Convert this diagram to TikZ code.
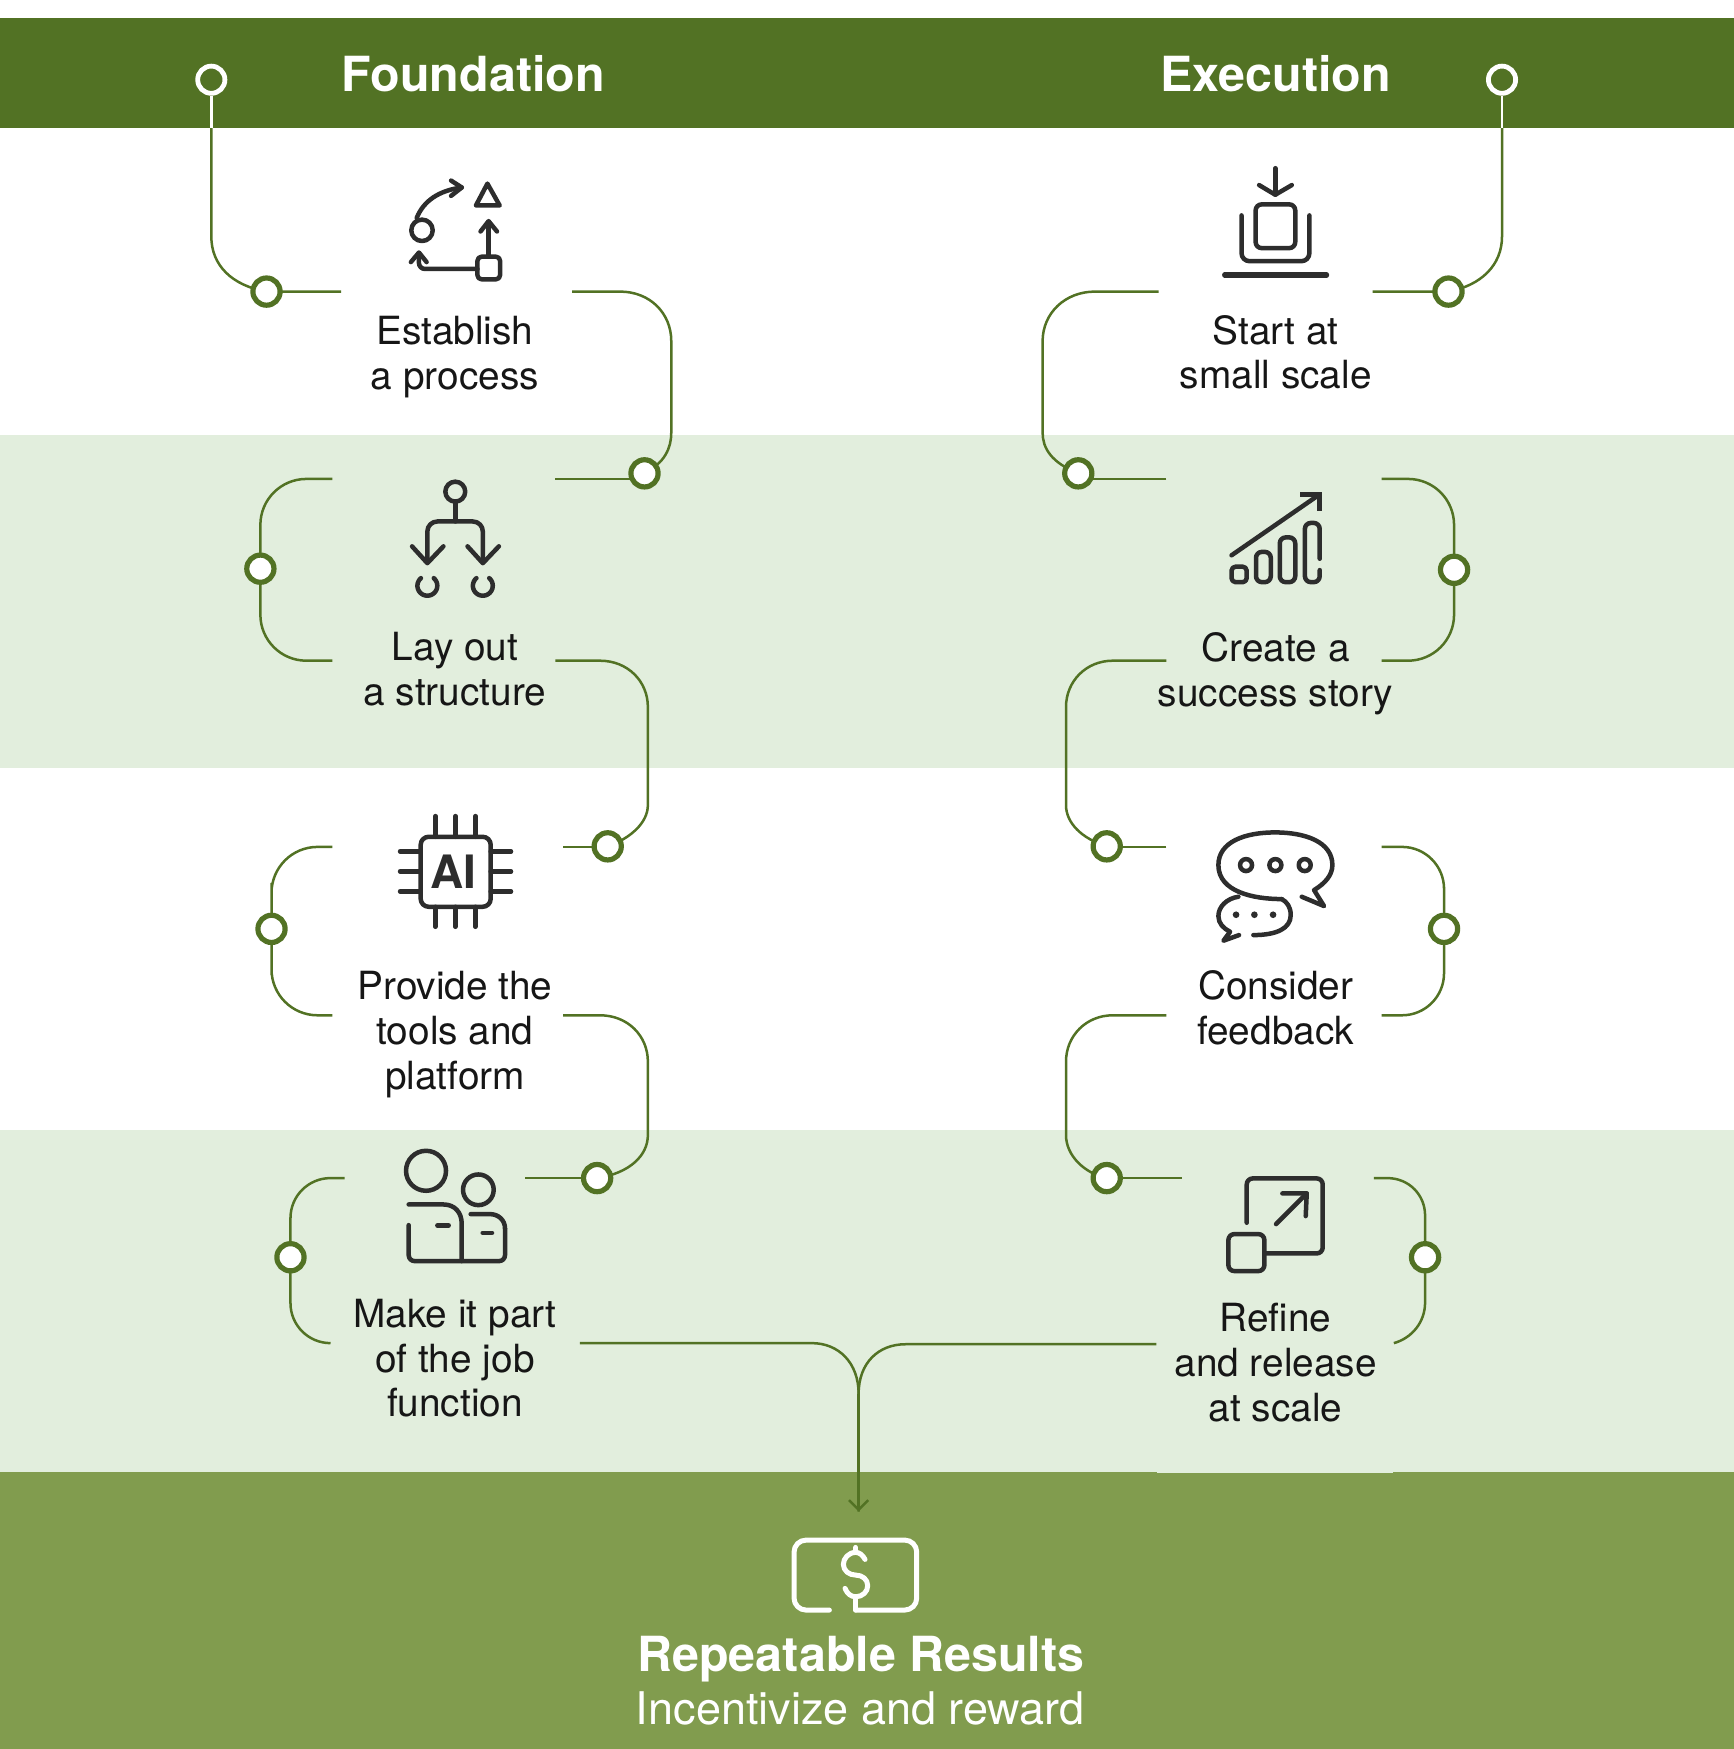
\documentclass[tikz,border=0pt]{standalone}
\usepackage{fontspec}
\setmainfont{TeX Gyre Heros}
\usetikzlibrary{arrows.meta}
\definecolor{gdark}{HTML}{527224}
\definecolor{gmid}{HTML}{819C4E}
\definecolor{glight}{HTML}{E2EEDD}
\definecolor{ink}{HTML}{2D2D2D}
\definecolor{txt}{HTML}{161616}
\pgfdeclarelayer{bands}
\pgfdeclarelayer{links}
\pgfsetlayers{bands,links,main}
\tikzset{
  ringg/.style={circle,draw=gdark,fill=white,line width=2.6pt,minimum size=13.6pt,inner sep=0pt},
  ringw/.style={circle,draw=white,fill=gdark,line width=2.4pt,minimum size=13.6pt,inner sep=0pt},
  link/.style={draw=gdark,line width=1.25pt,rounded corners=23pt},
  label/.style={font=\fontsize{19.4}{22.4}\selectfont,text=txt,align=center,inner sep=0pt},
  head/.style={font=\bfseries\fontsize{24.2}{28}\selectfont,text=white,inner sep=0pt},
  icon/.style={draw=ink,line width=2.25pt,line cap=round,line join=round},
  iconw/.style={draw=white,line width=2.5pt,line cap=round,line join=round},
  z1/.style={shift={(134.5,0)},x=0.1913pt,y=-0.1913pt},
  z2/.style={shift={(896.9,89.7)},x=0.1722pt,y=-0.1722pt},
  z3/.style={shift={(313.9,699.6)},x=0.16667pt,y=-0.16667pt},
  z4/.style={shift={(1049.3,717.5)},x=0.16667pt,y=-0.16667pt},
  z5/.style={shift={(627.8,1165.9)},x=0.16667pt,y=-0.16667pt},
}
\begin{document}
\begin{tikzpicture}[x=0.55756pt,y=-0.55756pt]
\useasboundingbox (0,0) rectangle (1555,1568.5);
\begin{pgfonlayer}{bands}
  \fill[gdark] (0,16) rectangle (1555,115);
  \fill[glight] (0,390) rectangle (1555,689);
  \fill[glight] (0,1013) rectangle (1555,1320);
  \fill[gmid] (0,1320) rectangle (1555,1568.5);
  \fill[glight] (1037.6,1319.9) rectangle (1249.5,1321);
\end{pgfonlayer}

% headings and labels
\node[head] (foundation) at (424.5,66.5) {Foundation};
\node[head] (execution) at (1144,66.5) {Execution};
\node[label] (t1) at (408,320) {Establish\\a process};
\node[label] (t2) at (408,600) {Lay out\\a structure};
\node[label] (t3) at (408,928) {Provide the\\tools and\\platform};
\node[label] (t4) at (408,1218) {Make it part\\of the job\\function};
\node[label] (t5) at (1144,316) {Start at\\small scale};
\node[label] (t6) at (1144,604) {Create a\\success story};
\node[label] (t7) at (1144,904) {Consider\\feedback};
\node[label] (t8) at (1144,1222) {Refine\\and release\\at scale};
\node[head] (rr) at (772,1488) {Repeatable Results};
\node[label,text=white,font=\fontsize{22.5}{26}\selectfont] (inc) at (771.5,1532.5) {Incentivize and reward};

% rings
\node[ringw] (a0) at (189.5,71.5) {};
\node[ringg] (a1) at (239,261.5) {};
\node[ringg] (a2) at (578,424.5) {};
\node[ringg] (a3) at (233.5,510) {};
\node[ringg] (a4) at (545,759) {};
\node[ringg] (a5) at (243.5,833) {};
\node[ringg] (a6) at (535.5,1056.5) {};
\node[ringg] (a7) at (260.5,1127.5) {};
\node[ringw] (b0) at (1347,71.5) {};
\node[ringg] (b1) at (1299,261.5) {};
\node[ringg] (b2) at (967,424.5) {};
\node[ringg] (b3) at (1304,511) {};
\node[ringg] (b4) at (992.5,759) {};
\node[ringg] (b5) at (1295,833) {};
\node[ringg] (b6) at (992.5,1056.5) {};
\node[ringg] (b7) at (1278,1127.5) {};

% free ends
\coordinate (abar) at (189.5,115);
\coordinate (bbar) at (1347,115);
\coordinate (e1) at (306,261.5);   \coordinate (e2) at (513,261.5);
\coordinate (e3) at (498,429.5);   \coordinate (e4) at (298,429.5);
\coordinate (e5) at (298,592.5);   \coordinate (e6) at (498,592.5);
\coordinate (e7) at (505,759.5);   \coordinate (e8) at (298,759.5);
\coordinate (e9) at (298,910.5);   \coordinate (e10) at (505,910.5);
\coordinate (e11) at (471,1056.5); \coordinate (e12) at (309,1056.5);
\coordinate (e13) at (296,1204.5); \coordinate (e14) at (520,1204.5);
\coordinate (f1) at (1231,261.5);  \coordinate (f2) at (1039,261.5);
\coordinate (f3) at (1046,429.5);  \coordinate (f4) at (1239,429.5);
\coordinate (f5) at (1239,592.5);  \coordinate (f6) at (1046,592.5);
\coordinate (f7) at (1046,759.5);  \coordinate (f8) at (1239,759.5);
\coordinate (f9) at (1239,910.5);  \coordinate (f10) at (1046,910.5);
\coordinate (f11) at (1060,1056.5);\coordinate (f12) at (1232,1056.5);
\coordinate (f13) at (1250,1204.5);\coordinate (f14) at (1037,1205.5);
\coordinate (join) at (770,1250);
\coordinate (tip) at (770,1355.5);

\begin{pgfonlayer}{links}
  % left column
  \draw[white,line width=1.25pt] (a0) -- (abar);
  \draw[link,rounded corners=0pt] (abar) -- (189.5,212) .. controls (189.5,238) and (208,256) .. (a1.center) -- (e1);
  \draw[link,rounded corners=0pt] (e2) -- (556,261.5) .. controls (583,261.5) and (602,281) .. (602,306) -- (602,388) .. controls (602,402) and (596,415) .. (a2.center);
  \draw[link,rounded corners=0pt] (e3) -- (a2.center |- e3);
  \draw[link] (e4) -| (a3.center) |- (e5);
  \draw[link,rounded corners=0pt] (e6) -- (538,592.5) .. controls (563,592.5) and (581,611) .. (581,634) -- (581,722) .. controls (581,738) and (565,752) .. (a4.center);
  \draw[link,rounded corners=0pt] (e7) -- (a4.center |- e7);
  \draw[link] (e8) -| (a5.center) |- (e9);
  \draw[link,rounded corners=0pt] (e10) -- (538,910.5) .. controls (563,910.5) and (581,929) .. (581,952) -- (581,1018) .. controls (581,1036) and (565,1052) .. (a6.center);
  \draw[link,rounded corners=0pt] (e11) -- (a6.center |- e11);
  \draw[link,rounded corners=20pt] (e12) -| (a7.center) |- (e13);
  \draw[link,rounded corners=0pt] (e14) -- (728,1204.5) .. controls (752,1204.5) and (770,1222) .. (join) -- (tip);
  % right column
  \draw[white,line width=1.25pt] (b0) -- (bbar);
  \draw[link,rounded corners=0pt] (bbar) -- (1347,212) .. controls (1347,238) and (1328,256) .. (b1.center) -- (f1);
  \draw[link,rounded corners=0pt] (f2) -- (982,261.5) .. controls (955,261.5) and (935,281) .. (935,306) -- (935,388) .. controls (935,402) and (943,415) .. (b2.center);
  \draw[link,rounded corners=0pt] (f3) -- (b2.center |- f3);
  \draw[link] (f4) -| (b3.center) |- (f5);
  \draw[link,rounded corners=0pt] (f6) -- (998,592.5) .. controls (974,592.5) and (956,611) .. (956,634) -- (956,722) .. controls (956,738) and (970,752) .. (b4.center);
  \draw[link,rounded corners=0pt] (f7) -- (b4.center |- f7);
  \draw[link,rounded corners=21pt] (f8) -| (b5.center) |- (f9);
  \draw[link,rounded corners=0pt] (f10) -- (998,910.5) .. controls (974,910.5) and (956,929) .. (956,952) -- (956,1018) .. controls (956,1036) and (972,1052) .. (b6.center);
  \draw[link,rounded corners=0pt] (f11) -- (b6.center |- f11);
  \draw[link,rounded corners=0pt] (f12) -- (1244,1056.5) .. controls (1264,1056.5) and (1278,1072) .. (1278,1090) -- (1278,1168) .. controls (1278,1186) and (1266,1200) .. (f13);
  \draw[link,rounded corners=0pt] (f14) -- (812,1205.5) .. controls (788,1205.5) and (770,1222) .. (join);
  \draw[gdark,line width=1.25pt,-{Straight Barb[length=4.8pt,width=9.6pt]}] (join) -- (tip);
\end{pgfonlayer}

% icon: establish a process
\begin{scope}[z1]
  \draw[icon] (711,602) circle[radius=28];
  \draw[icon] (697,570) .. controls (715,525) and (755,498) .. (815,490);
  \draw[icon] (787,472) -- (815,490) -- (787,512);
  \draw[icon] (882,480) -- (914,537) -- (852,537) -- cycle;
  \draw[icon] (885,668) -- (885,580);
  \draw[icon] (864,605) -- (885,578) -- (907,605);
  \draw[icon,rounded corners=2pt] (856,671) rectangle (915,730);
  \draw[icon,rounded corners=3pt] (856,703) -- (703,703) -- (703,662);
  \draw[icon] (682,685) -- (703,660) -- (723,685);
\end{scope}
% icon: lay out a structure
\begin{scope}[z1]
  \draw[icon] (798,1285) circle[radius=26];
  \draw[icon] (798,1311) -- (798,1363);
  \draw[icon,rounded corners=5pt] (725,1470) -- (725,1363) -- (870,1363) -- (870,1470);
  \draw[icon] (685,1428) -- (725,1472) -- (767,1428);
  \draw[icon] (830,1428) -- (870,1472) -- (912,1428);
  \draw[icon,domain=-50:230,samples=30,variable=\t,smooth] plot ({725+26*cos(\t)},{1531+26*sin(\t)});
  \draw[icon,domain=-50:230,samples=30,variable=\t,smooth] plot ({870+26*cos(\t)},{1531+26*sin(\t)});
\end{scope}
% icon: start at small scale
\begin{scope}[z2]
  \draw[icon] (799,198) -- (799,275);
  \draw[icon] (752,247) -- (799,275) -- (847,247);
  \draw[icon,rounded corners=3pt] (742,303) rectangle (857,430);
  \draw[icon,rounded corners=4pt] (701,335) -- (701,468) -- (898,468) -- (898,335);
  \draw[icon,line width=2.6pt] (652,508) -- (948,508);
\end{scope}
% icon: success story
\begin{scope}[z2]
  \draw[icon] (672,1322) -- (928,1145);
  \draw[icon,line cap=butt,line join=miter] (872,1145) -- (928,1145) -- (928,1192);
  \draw[icon,rounded corners=2pt] (672,1355) rectangle (716,1400);
  \draw[icon,rounded corners=3pt] (743,1312) rectangle (786,1400);
  \draw[icon,rounded corners=3pt] (812,1270) rectangle (857,1400);
  \draw[icon,rounded corners=3pt] (928,1332) -- (928,1228) -- (885,1228) -- (885,1400) -- (928,1400) -- (928,1365);
\end{scope}
% icon: AI chip
\begin{scope}[z3]
  \draw[icon,rounded corners=4pt] (212,170) rectangle (422,380);
  \foreach \p in {256,316,376} {
    \draw[icon] (\p,108) -- (\p,170);
    \draw[icon] (\p,380) -- (\p,440);
  }
  \foreach \p in {214,274,334} {
    \draw[icon] (150,\p) -- (212,\p);
    \draw[icon] (422,\p) -- (483,\p);
  }
  \node[font=\bfseries\fontsize{23}{23}\selectfont,text=ink,inner sep=0pt] (ai) at (310,275) {AI};
\end{scope}
% icon: people
\begin{scope}[z3]
  \draw[icon] (228,1172) circle[radius=60];
  \draw[icon] (385,1229) circle[radius=46];
  \draw[icon] (176,1273) -- (280,1273) .. controls (315,1273) and (335,1298) .. (335,1330) -- (335,1443);
  \draw[icon,rounded corners=3pt] (176,1335) -- (176,1443) -- (465,1443) -- (465,1345);
  \draw[icon] (465,1345) .. controls (465,1320) and (445,1302) .. (420,1302) -- (362,1302);
  \draw[icon] (262,1336) -- (296,1336);
  \draw[icon] (398,1358) -- (426,1358);
\end{scope}
% icon: feedback
\begin{scope}[z4]
  \draw[icon] (335,297) .. controls (250,297) and (145,275) .. (145,195) .. controls (145,125) and (225,97) .. (315,97) .. controls (405,97) and (487,125) .. (487,195) .. controls (487,225) and (465,250) .. (432,270) -- (462,318) -- (395,290);
  \draw[icon] (250,405) .. controls (320,405) and (362,385) .. (362,345) .. controls (362,320) and (350,305) .. (335,297);
  \draw[icon] (205,290) .. controls (170,295) and (145,320) .. (145,348) .. controls (145,370) and (160,385) .. (180,395) -- (160,422) -- (207,405);
  \foreach \p in {228,316,404} \draw[icon] (\p,195) circle[radius=18];
  \foreach \p in {198,253,309} \fill[ink] (\p,344) circle[radius=10];
\end{scope}
% icon: refine
\begin{scope}[z4]
  \draw[icon,rounded corners=3pt] (230,1268) -- (230,1135) -- (458,1135) -- (458,1360) -- (285,1360);
  \draw[icon,rounded corners=3pt] (175,1302) rectangle (283,1413);
  \draw[icon] (318,1272) -- (410,1180);
  \draw[icon] (337,1180) -- (410,1180) -- (407,1248);
\end{scope}
% icon: money
\begin{scope}[z5]
  \draw[iconw,rounded corners=6pt] (388,930) -- (282,930) -- (282,720) -- (650,720) -- (650,930) -- (467,930);
  \draw[iconw] (467,930) -- (467,890);
  \draw[iconw] (467,742) -- (467,757);
  \draw[iconw] (495,778) .. controls (487,763) and (477,757) .. (467,757) .. controls (445,757) and (430,775) .. (430,793) .. controls (430,812) and (447,825) .. (467,825) .. controls (487,825) and (503,838) .. (503,857) .. controls (503,875) and (487,890) .. (467,890) .. controls (452,890) and (441,880) .. (435,865);
\end{scope}
\end{tikzpicture}
\end{document}
